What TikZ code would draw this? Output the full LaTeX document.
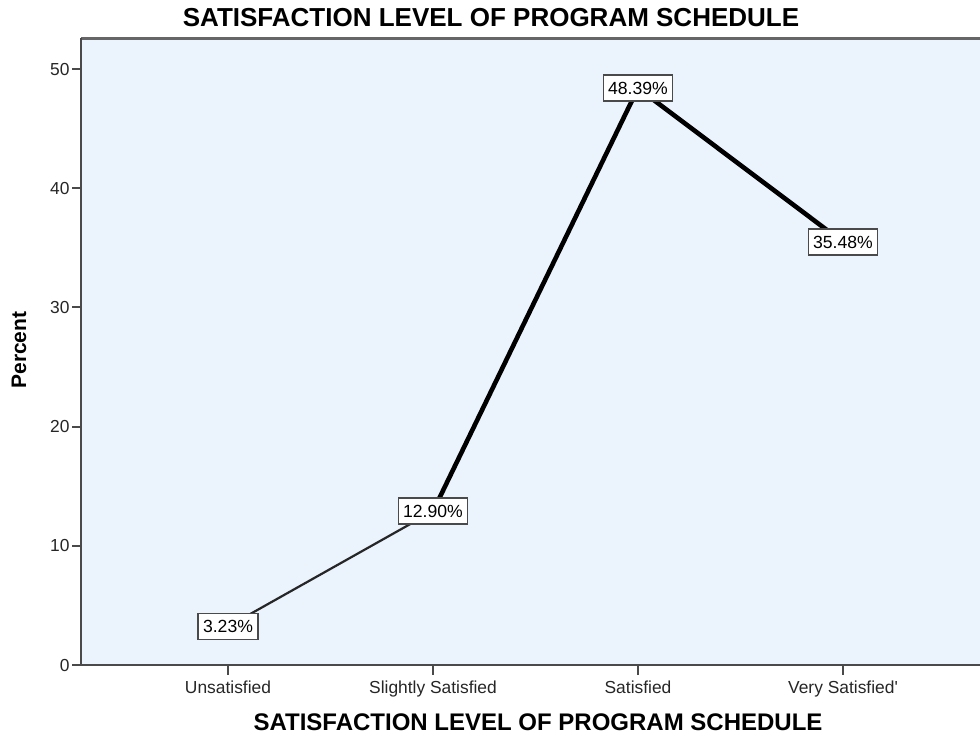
\documentclass[tikz,border=0pt]{standalone}
\usepackage{fontspec}
\setmainfont{Liberation Sans}[Ligatures=TeXOff]
\usepackage{tikz}
\usetikzlibrary{positioning}
\usepackage{xcolor}
\definecolor{plotbg}{HTML}{EBF3FD}
\definecolor{framegray}{HTML}{4A4A4A}

\begin{document}
\begin{tikzpicture}[
        x=0.5pt, y=-0.5pt,
        axisline/.style={draw=framegray, line width=1pt},
        ticklabel/.style={font=\fontsize{8.7}{10}\selectfont, text=black!85},
        pctlabel/.style={draw=framegray, fill=white, line width=0.8pt, inner xsep=2.4pt, inner ysep=3.4pt, font=\fontsize{8.8}{10}\selectfont},
        thinseg/.style={line width=1.1pt, black!85},
        thickseg/.style={line width=2.3pt, black}
      ]

      \useasboundingbox (0,0) rectangle (980,736);

      % Titles
      \node[font=\bfseries\fontsize{13}{15}\selectfont] (title) at (491, 18) {SATISFACTION LEVEL OF PROGRAM SCHEDULE};
      \node[font=\bfseries\fontsize{12}{14}\selectfont] (xtitle) at (538, 722) {SATISFACTION LEVEL OF PROGRAM SCHEDULE};
      \node[font=\bfseries\fontsize{10.5}{12}\selectfont, rotate=90] (ytitle) at (19, 350) {Percent};

      % Plot area
      \fill[plotbg] (81, 38) rectangle (1000, 665);
      \draw[axisline, line width=1.5pt, draw=gray!80!black] (81, 38) -- (1000, 38);
      \draw[axisline] (81, 38) -- (81, 665) -- (1000, 665);

      % Y ticks
      \foreach \v in {0,10,...,50} {
        \draw[axisline] (72, {665-11.92*\v}) -- (81, {665-11.92*\v});
        \node[ticklabel, anchor=east, inner sep=0pt] (ytick\v) at (70, {665-11.92*\v}) {\v};
      }

      % X ticks
      \foreach \x/\name/\txt in {228/unsat/Unsatisfied, 433/slight/Slightly Satisfied, 638/sat/Satisfied, 843/very/Very Satisfied'} {
        \draw[axisline] (\x, 665) -- (\x, 675);
        \node[ticklabel, anchor=base, inner sep=0pt] (xtick\name) at (\x, 693) {\txt};
      }

      % Points
      \coordinate (unsat) at (228, {665-11.92*3.23});
      \coordinate (slight) at (433, {665-11.92*12.90});
      \coordinate (sat) at (638, {665-11.92*48.39});
      \coordinate (very) at (843, {665-11.92*35.48});

      \draw[thinseg] (unsat) -- (slight);
      \draw[thickseg, line join=round] (slight) -- (sat) -- (very);

      % Labels
      \node[pctlabel] (unsatLabel) at (unsat) {3.23\%};
      \node[pctlabel] (slightLabel) at (slight) {12.90\%};
      \node[pctlabel] (satLabel) at (sat) {48.39\%};
      \node[pctlabel] (veryLabel) at (very) {35.48\%};
  \end{tikzpicture}
\end{document}
